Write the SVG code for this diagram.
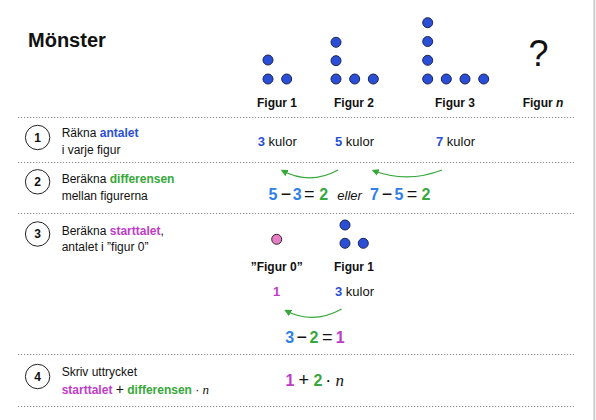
<svg xmlns="http://www.w3.org/2000/svg" width="596" height="420" viewBox="0 0 596 420">
<defs>
<style>
text{font-family:"Liberation Sans",Arial,sans-serif;fill:#111}
.t{font-size:12px}
.b{font-weight:bold}
.lbl{font-size:12px;font-weight:bold;text-anchor:middle}
.k{font-size:13px}
.eq{font-size:16px;font-weight:bold;text-anchor:middle}
.op{font-size:18px;text-anchor:middle}
.mi{font-family:"Liberation Serif","Times New Roman",serif;font-style:italic}
.blue{fill:#2a4fd6}
.lblue{fill:#2f7fe6}
.green{fill:#37a83a}
.purple{fill:#c03cc8}
.dot{fill:#2a4fd6;stroke:#1c2450;stroke-width:1}
.pink{fill:#e47fc6;stroke:#3a2030;stroke-width:1}
.sep{stroke:#8a8a8a;stroke-width:1;stroke-dasharray:1.2 1.8;fill:none}
.badge{fill:#fff;stroke:#222;stroke-width:1}
.num{font-size:12px;font-weight:bold;text-anchor:middle}
.arr{fill:none;stroke:#37a83a;stroke-width:1.2;marker-end:url(#ah)}
</style>
<marker id="ah" viewBox="0 0 10 10" refX="8" refY="5" markerWidth="7" markerHeight="7" orient="auto-start-reverse" markerUnits="userSpaceOnUse">
<path d="M0,0 L10,5 L0,10 z" fill="#37a83a"/>
</marker>
</defs>
<rect width="596" height="420" fill="#fff"/>
<line x1="594.3" y1="0" x2="594.3" y2="420" stroke="#cfcfcf" stroke-width="2"/>

<text x="28" y="47" style="font-size:20px;font-weight:bold">Mönster</text>

<g id="figur1">
<circle class="dot" cx="268" cy="60" r="5"/>
<circle class="dot" cx="268" cy="79" r="5"/>
<circle class="dot" cx="286.7" cy="79" r="5"/>
<text class="lbl" x="277" y="107">Figur 1</text>
</g>
<g id="figur2">
<circle class="dot" cx="336" cy="42.3" r="5"/>
<circle class="dot" cx="336" cy="60.7" r="5"/>
<circle class="dot" cx="336" cy="79" r="5"/>
<circle class="dot" cx="354.7" cy="79" r="5"/>
<circle class="dot" cx="373.3" cy="79" r="5"/>
<text class="lbl" x="354" y="107">Figur 2</text>
</g>
<g id="figur3">
<circle class="dot" cx="427.7" cy="22.7" r="5"/>
<circle class="dot" cx="427.7" cy="41.5" r="5"/>
<circle class="dot" cx="427.7" cy="60.3" r="5"/>
<circle class="dot" cx="427.7" cy="79" r="5"/>
<circle class="dot" cx="446.3" cy="79" r="5"/>
<circle class="dot" cx="465" cy="79" r="5"/>
<circle class="dot" cx="483.7" cy="79" r="5"/>
<text class="lbl" x="455" y="107">Figur 3</text>
</g>
<g id="figurn">
<text x="538.5" y="65.5" style="font-size:36px;text-anchor:middle">?</text>
<text class="lbl" x="543" y="107">Figur <tspan style="font-style:italic">n</tspan></text>
</g>

<g id="separators">
<line class="sep" x1="18" y1="117.5" x2="574" y2="117.5"/>
<line class="sep" x1="18" y1="162.5" x2="574" y2="162.5"/>
<line class="sep" x1="18" y1="213.5" x2="574" y2="213.5"/>
<line class="sep" x1="18" y1="354.5" x2="574" y2="354.5"/>
<line class="sep" x1="18" y1="406.5" x2="574" y2="406.5"/>
</g>

<g id="step1">
<circle class="badge" cx="37.6" cy="137.5" r="12.2"/>
<text class="num" x="37.6" y="141.8">1</text>
<text class="t" x="61.7" y="137.3">Räkna <tspan class="b blue">antalet</tspan></text>
<text class="t" x="61.7" y="153.8">i varje figur</text>
<text class="k" x="257.7" y="146"><tspan class="b blue">3</tspan> kulor</text>
<text class="k" x="335" y="146"><tspan class="b blue">5</tspan> kulor</text>
<text class="k" x="436" y="146"><tspan class="b blue">7</tspan> kulor</text>
</g>

<g id="step2">
<circle class="badge" cx="37.6" cy="181.8" r="12.2"/>
<text class="num" x="37.6" y="186.1">2</text>
<text class="t" x="61.7" y="183">Beräkna <tspan class="b green">differensen</tspan></text>
<text class="t" x="61.7" y="199.5">mellan figurerna</text>
<text class="eq lblue" x="273" y="199.5">5</text>
<text class="op" x="286" y="199.5">−</text>
<text class="eq lblue" x="297.3" y="199.5">3</text>
<text class="op" x="309.3" y="199.5">=</text>
<text class="eq green" x="323.7" y="199.5">2</text>
<text x="337.3" y="199.5" style="font-size:13px;font-style:italic">eller</text>
<text class="eq lblue" x="374.5" y="199.5">7</text>
<text class="op" x="387" y="199.5">−</text>
<text class="eq lblue" x="399" y="199.5">5</text>
<text class="op" x="412" y="199.5">=</text>
<text class="eq green" x="426" y="199.5">2</text>
</g>

<g id="step3">
<circle class="badge" cx="37.6" cy="234" r="12.2"/>
<text class="num" x="37.6" y="238.3">3</text>
<text class="t" x="61.7" y="235">Beräkna <tspan class="b purple">starttalet</tspan>,</text>
<text class="t" x="61.7" y="251">antalet i ”figur 0”</text>
<circle class="pink" cx="276.7" cy="239.3" r="5"/>
<circle class="dot" cx="345" cy="225" r="5"/>
<circle class="dot" cx="345" cy="243.3" r="5"/>
<circle class="dot" cx="363.3" cy="243.3" r="5"/>
<text class="lbl" x="276.7" y="271">”Figur 0”</text>
<text class="lbl" x="354" y="271">Figur 1</text>
<text class="k b purple" x="276.7" y="296" style="text-anchor:middle">1</text>
<text class="k" x="335" y="296"><tspan class="b blue">3</tspan> kulor</text>
<text class="eq lblue" x="289.7" y="343.3">3</text>
<text class="op" x="301.7" y="343.3">−</text>
<text class="eq green" x="314" y="343.3">2</text>
<text class="op" x="327.2" y="343.3">=</text>
<text class="eq purple" x="340.3" y="343.3">1</text>
</g>

<g id="step4">
<circle class="badge" cx="37.6" cy="376.5" r="12.2"/>
<text class="num" x="37.6" y="380.8">4</text>
<text class="t" x="61.7" y="375.5">Skriv uttrycket</text>
<text class="t" x="61.7" y="393.5"><tspan class="b purple">starttalet</tspan> <tspan style="font-size:14px">+</tspan> <tspan class="b green">differensen</tspan> · <tspan class="mi" style="font-size:13px">n</tspan></text>
<text class="eq purple" x="290" y="386">1</text>
<text class="op" x="303.8" y="386">+</text>
<text class="eq green" x="318" y="386">2</text>
<text class="op" x="328.3" y="386">·</text>
<text class="op mi" x="339.7" y="386" style="font-size:17px">n</text>
</g>

<g id="connectors">
<path class="arr" d="M338,170 Q310,185.5 282,170.5"/>
<path class="arr" d="M442,170 Q407,183.5 373,170.5"/>
<path class="arr" d="M341.7,309 Q313,325 285.5,310.5"/>
</g>
</svg>
